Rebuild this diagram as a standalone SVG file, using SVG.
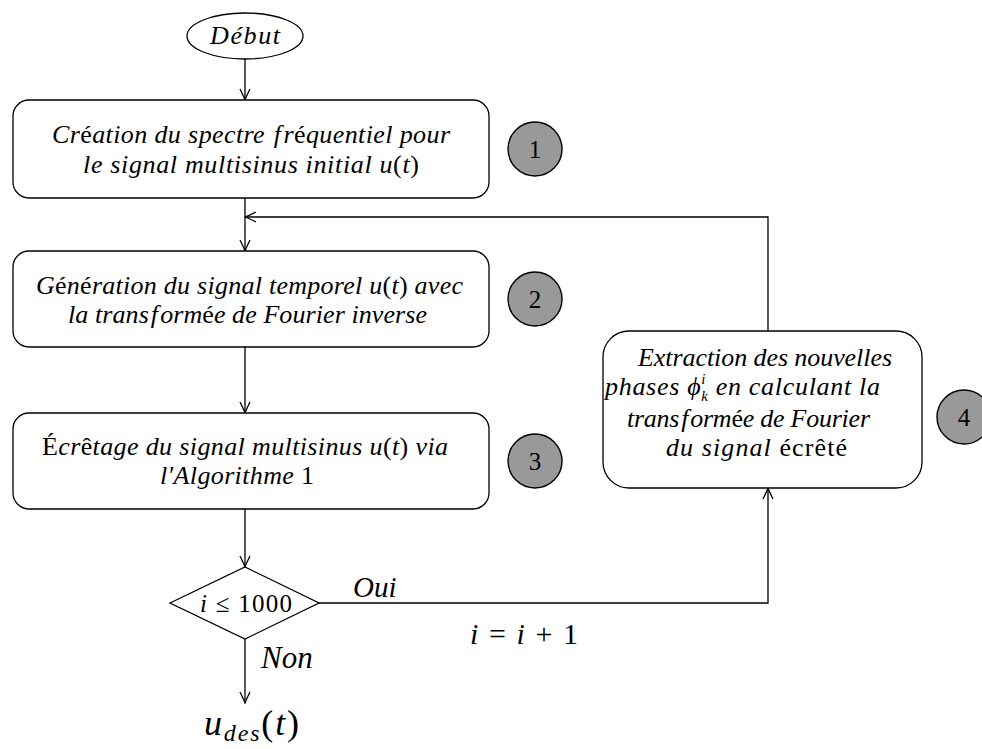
<svg xmlns="http://www.w3.org/2000/svg" width="982" height="749" viewBox="0 0 982 749">
<defs>
<style>
.t{font-family:"Liberation Serif","DejaVu Serif",serif;font-size:26px;font-style:italic;fill:#000}
.n{font-style:normal}
.box{fill:#fff;stroke:#000;stroke-width:1.3}
.num{fill:#999;stroke:#000;stroke-width:1.4}
.numt{font-family:"Liberation Serif","DejaVu Serif",serif;font-size:25px;fill:#000;text-anchor:middle}
.c{fill:none;stroke:#000;stroke-width:1.3}
.big{font-size:29px}
</style>
<marker id="ah" viewBox="-12 -6 13 12" refX="0" refY="0" markerWidth="13" markerHeight="12" markerUnits="userSpaceOnUse" orient="auto">
<path d="M-11,-5 Q-4,-1.5 0,0 Q-4,1.5 -11,5" fill="none" stroke="#000" stroke-width="1.3"/>
</marker>
</defs>
<rect width="982" height="749" fill="#fff"/>

<g id="connectors">
<path class="c" d="M245,59 V100" marker-end="url(#ah)"/>
<path class="c" d="M245,198 V251" marker-end="url(#ah)"/>
<path class="c" d="M768,331 V217 H245" marker-end="url(#ah)"/>
<path class="c" d="M245,347 V413" marker-end="url(#ah)"/>
<path class="c" d="M245,509 V567" marker-end="url(#ah)"/>
<path class="c" d="M319,603 H768 V488" marker-end="url(#ah)"/>
<path class="c" d="M245,639 V703" marker-end="url(#ah)"/>
<text class="t big" x="353" y="597">Oui</text>
<text class="t big" x="261" y="668" style="font-size:31px">Non</text>
<text class="t" x="470" y="644" style="font-size:30px" textLength="108">i<tspan class="n"> = </tspan>i<tspan class="n"> + 1</tspan></text>
</g>

<g id="start">
<ellipse class="box" cx="245" cy="36" rx="58" ry="23"/>
<text class="t" x="210" y="44" textLength="70">Début</text>
</g>

<g id="step1">
<rect class="box" x="13" y="100" width="476" height="98" rx="16"/>
<text class="t" x="52" y="143" textLength="398">Cr<tspan class="n">é</tspan>ation du spectre <tspan dx="2">f</tspan><tspan dx="2">r</tspan><tspan class="n">é</tspan>quentiel pour</text>
<text class="t" x="83" y="173" textLength="336">le signal multisinus initial u<tspan class="n">(</tspan>t<tspan class="n">)</tspan></text>
</g>
<g id="badge1">
<circle class="num" cx="535" cy="149" r="27"/>
<text class="numt" x="535" y="158">1</text>
</g>

<g id="step2">
<rect class="box" x="13" y="251" width="476" height="96" rx="16"/>
<text class="t" x="36" y="294" textLength="427">G<tspan class="n">é</tspan>n<tspan class="n">é</tspan>ration du signal temporel u<tspan class="n">(</tspan>t<tspan class="n">)</tspan> avec</text>
<text class="t" x="68" y="323" textLength="359">la trans<tspan dx="2">f</tspan><tspan dx="2">orm</tspan><tspan class="n">é</tspan>e de Fourier inverse</text>
</g>
<g id="badge2">
<circle class="num" cx="535" cy="299" r="27"/>
<text class="numt" x="535" y="308">2</text>
</g>

<g id="step3">
<rect class="box" x="13" y="413" width="476" height="96" rx="16"/>
<text class="t" x="42" y="455" textLength="406"><tspan class="n">É</tspan>cr<tspan class="n">ê</tspan>tage du signal multisinus u<tspan class="n">(</tspan>t<tspan class="n">)</tspan> via</text>
<text class="t" x="160" y="484" textLength="154">l′Algorithme <tspan class="n">1</tspan></text>
</g>
<g id="badge3">
<circle class="num" cx="535" cy="461" r="27"/>
<text class="numt" x="535" y="470">3</text>
</g>

<g id="decision">
<polygon class="box" points="170,603 245,567 319,603 245,639"/>
<text class="t" x="200" y="612" style="font-size:25px" textLength="92">i<tspan class="n"> ≤ 1000</tspan></text>
</g>

<g id="step4">
<rect class="box" x="603" y="331" width="319" height="157" rx="26"/>
<text class="t" x="638" y="366" textLength="254">Extraction des nouvelles</text>
<text class="t" x="605" y="395" textLength="275">phases ϕ<tspan style="font-size:15px" dy="-11">i</tspan><tspan style="font-size:15px" dx="-5" dy="17">k</tspan><tspan dy="-6"> en calculant la</tspan></text>
<text class="t" x="627" y="427" textLength="243">trans<tspan dx="2">f</tspan><tspan dx="2">orm</tspan><tspan class="n">é</tspan>e de Fourier</text>
<text class="t" x="666" y="456" textLength="181">du signal <tspan class="n">écrêté</tspan></text>
</g>
<g id="badge4">
<circle class="num" cx="964" cy="417" r="27"/>
<text class="numt" x="964" y="426">4</text>
</g>

<g id="end">
<text class="t" x="204" y="735" style="font-size:36px" textLength="95">u<tspan style="font-size:24px" dy="6">des</tspan><tspan class="n" dy="-6">(</tspan>t<tspan class="n">)</tspan></text>
</g>
</svg>
